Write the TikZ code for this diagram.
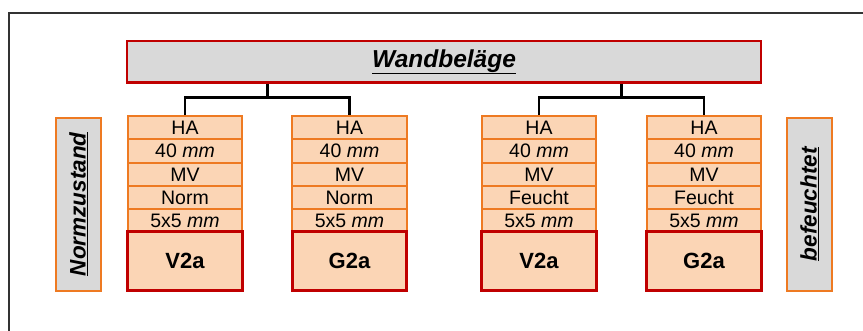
\documentclass[tikz,border=0pt]{standalone}
\usepackage{fontspec}
\setmainfont{Liberation Sans}
\usetikzlibrary{shadows}
\definecolor{peach}{HTML}{FBD5B5}
\definecolor{orangeline}{HTML}{EE7A22}
\definecolor{redline}{HTML}{C00000}
\definecolor{greyfill}{HTML}{D9D9D9}
\tikzset{
  rowbox/.style={draw=orangeline, line width=1.8pt, fill=peach, minimum width=114.5pt, minimum height=23.3pt, inner sep=0pt, font=\fontsize{19.5}{20}\selectfont},
  keybox/.style={draw=redline, line width=2.7pt, fill=peach, minimum width=114.5pt, minimum height=59pt, inner sep=0pt, font=\fontsize{22}{24}\selectfont\bfseries, drop shadow={opacity=0.3, shadow xshift=1.5pt, shadow yshift=-1.5pt}},
  titlebox/.style={draw=redline, line width=2.5pt, fill=greyfill, minimum width=634pt, minimum height=41.5pt, inner sep=0pt, font=\fontsize{24.5}{26}\selectfont\bfseries\itshape},
  sidebox/.style={draw=orangeline, line width=2pt, fill=greyfill, minimum width=173pt, minimum height=45pt, inner sep=0pt, rotate=90, font=\fontsize{22.5}{24}\selectfont\bfseries\itshape},
  conn/.style={draw=black, line width=2.8pt},
  frameline/.style={draw=black!80, line width=2pt}
}
\begin{document}
\begin{tikzpicture}[x=1pt, y=-1pt]
\useasboundingbox (0,0) rectangle (863,330);
\fill[white] (0,0) rectangle (863,330);
% frame
\coordinate (fb) at (9,332);
\coordinate (fc) at (9,13);
\coordinate (fr) at (865,13);
\draw[frameline] (fb) -- (fc) -- (fr);
% title
\node[titlebox] (title) at (444,61.8) {\underline{Wandbeläge}};
% side boxes
\node[sidebox] (ns) at (78.5,204.2) {\underline{Normzustand}};
\node[sidebox] (bf) at (809.5,204.2) {\underline{befeuchtet}};
% connectors
\coordinate (j1) at (267.25,97.7);
\coordinate (j2) at (621.5,97.7);
% columns
\foreach \n/\cx/\st/\lab in {c1/185/Norm/V2a, c2/349.5/Norm/G2a, c3/539/Feucht/V2a, c4/704/Feucht/G2a}{
  \node[rowbox] (\n r1) at (\cx,127.7) {HA};
  \node[rowbox] (\n r2) at (\cx,151.0) {40 \textit{mm}};
  \node[rowbox] (\n r3) at (\cx,174.4) {MV};
  \node[rowbox] (\n r4) at (\cx,197.7) {\st};
  \node[rowbox] (\n r5) at (\cx,221.0) {5x5 \textit{mm}};
  \node[keybox] (\n k) at (\cx,261.2) {\lab};
}
\draw[conn] (title.south -| j1) -- (j1);
\draw[conn] (title.south -| j2) -- (j2);
\draw[conn] (c1r1.north) |- (j1) -| (c2r1.north);
\draw[conn] (c3r1.north) |- (j2) -| (c4r1.north);
\end{tikzpicture}
\end{document}
